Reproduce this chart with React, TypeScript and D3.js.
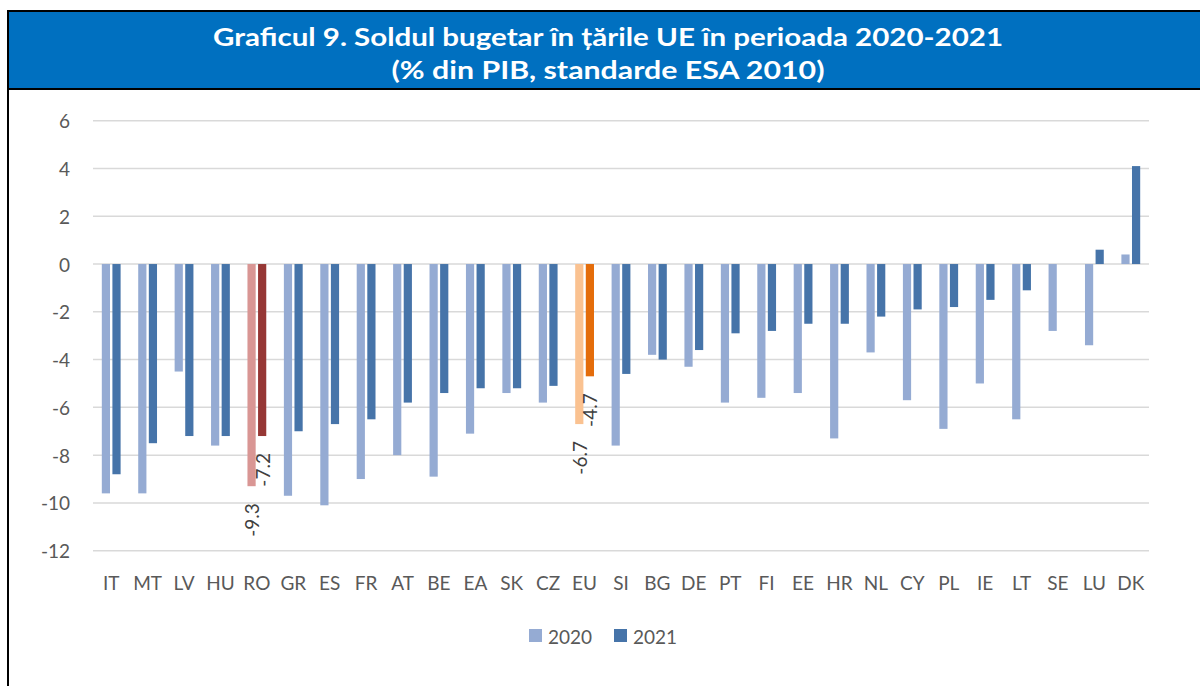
import { useEffect, useRef } from 'react';
import * as d3 from 'd3';

const categories = ['IT', 'MT', 'LV', 'HU', 'RO', 'GR', 'ES', 'FR', 'AT', 'BE', 'EA', 'SK', 'CZ', 'EU', 'SI', 'BG', 'DE', 'PT', 'FI', 'EE', 'HR', 'NL', 'CY', 'PL', 'IE', 'LT', 'SE', 'LU', 'DK'];
const values2020 = [-9.6, -9.6, -4.5, -7.6, -9.3, -9.7, -10.1, -9.0, -8.0, -8.9, -7.1, -5.4, -5.8, -6.7, -7.6, -3.8, -4.3, -5.8, -5.6, -5.4, -7.3, -3.7, -5.7, -6.9, -5.0, -6.5, -2.8, -3.4, 0.4];
const values2021 = [-8.8, -7.5, -7.2, -7.2, -7.2, -7.0, -6.7, -6.5, -5.8, -5.4, -5.2, -5.2, -5.1, -4.7, -4.6, -4.0, -3.6, -2.9, -2.8, -2.5, -2.5, -2.2, -1.9, -1.8, -1.5, -1.1, 0, 0.6, 4.1];
const seriesNames = ['2020', '2021'];
const yTicks = [6, 4, 2, 0, -2, -4, -6, -8, -10, -12];
const labelled = ['RO', 'EU'];
const titleLines = ['Graficul 9. Soldul bugetar în țările UE în perioada 2020-2021', '(% din PIB, standarde ESA 2010)'];

const colors: Record<string, string> = { '2020': '#95ABD3', '2021': '#4674A9' };
const highlight: Record<string, Record<string, string>> = {
  RO: { '2020': '#D99694', '2021': '#963735' },
  EU: { '2020': '#FAC291', '2021': '#E46C0A' },
};

const FONT = 'Lato, "Open Sans", sans-serif';

const App = () => {
  const ref = useRef<SVGSVGElement>(null);

  useEffect(() => {
    const svg = d3.select(ref.current);
    svg.selectAll('*').remove();

    // frame + title banner
    svg.append('rect').attr('x', 8).attr('y', 11).attr('width', 1192).attr('height', 78).attr('fill', '#0070C0');
    svg.append('line').attr('x1', 8).attr('x2', 1200).attr('y1', 11).attr('y2', 11).attr('stroke', '#000').attr('stroke-width', 2);
    svg.append('line').attr('x1', 8).attr('x2', 1200).attr('y1', 89).attr('y2', 89).attr('stroke', '#000').attr('stroke-width', 2);
    svg.append('line').attr('x1', 8).attr('x2', 8).attr('y1', 10).attr('y2', 686).attr('stroke', '#000').attr('stroke-width', 2);

    const titleWidths = [790, 433];
    svg.selectAll('text.title').data(titleLines).enter().append('text')
      .attr('class', 'title')
      .attr('x', (d, i) => 608 - titleWidths[i] / 2)
      .attr('y', (d, i) => 46 + i * 33)
      .attr('textLength', (d, i) => titleWidths[i])
      .attr('lengthAdjust', 'spacingAndGlyphs')
      .attr('fill', '#fff')
      .attr('font-family', FONT)
      .attr('font-weight', 'bold')
      .attr('font-size', 24)
      .text(d => d);

    const xScale = d3.scaleBand<string>().domain(categories).range([93, 1149]);
    const yScale = d3.scaleLinear().domain([-12, 6]).range([550.7, 120.7]);
    const bw = xScale.bandwidth();
    const inner = d3.scaleBand<string>().domain(seriesNames).range([bw / 2 - 9.4, bw / 2 + 9.4]).paddingInner(0.226);

    // gridlines
    svg.append('g').selectAll('line').data(yTicks).enter().append('line')
      .attr('x1', 93).attr('x2', 1149)
      .attr('y1', d => yScale(d)).attr('y2', d => yScale(d))
      .attr('stroke', '#D9D9D9').attr('stroke-width', 1.5);

    svg.append('g').selectAll('text').data(yTicks).enter().append('text')
      .attr('x', 70).attr('y', d => yScale(d))
      .attr('text-anchor', 'end').attr('dominant-baseline', 'central')
      .attr('fill', '#595959').attr('font-family', FONT).attr('font-size', 19)
      .text(d => d);

    const rows = categories.map((c, i) => ({ c, v: { '2020': values2020[i], '2021': values2021[i] } as Record<string, number> }));

    const groups = svg.append('g').selectAll('g').data(rows).enter().append('g')
      .attr('transform', d => `translate(${xScale(d.c)},0)`);

    seriesNames.forEach(s => {
      groups.append('rect')
        .attr('x', inner(s)!)
        .attr('width', inner.bandwidth())
        .attr('y', d => yScale(Math.max(0, d.v[s])))
        .attr('height', d => Math.abs(yScale(d.v[s]) - yScale(0)))
        .attr('fill', d => (highlight[d.c] ? highlight[d.c][s] : colors[s]));

      groups.filter(d => labelled.includes(d.c)).append('text')
        .attr('transform', d => `translate(${inner(s)! + inner.bandwidth() / 2},${yScale(d.v[s]) + 17}) rotate(-90)`)
        .attr('text-anchor', 'end').attr('dominant-baseline', 'central')
        .attr('fill', '#404040').attr('font-family', FONT).attr('font-size', 19)
        .text(d => d.v[s].toFixed(1));
    });

    // category labels
    svg.append('g').selectAll('text').data(categories).enter().append('text')
      .attr('x', d => xScale(d)! + bw / 2).attr('y', 582)
      .attr('text-anchor', 'middle').attr('dominant-baseline', 'central')
      .attr('fill', '#595959').attr('font-family', FONT).attr('font-size', 19)
      .text(d => d);

    // legend
    const legendX = [529, 614];
    const legend = svg.append('g').selectAll('g').data(seriesNames).enter().append('g')
      .attr('transform', (d, i) => `translate(${legendX[i]},629)`);
    legend.append('rect').attr('width', 13).attr('height', 13).attr('fill', d => colors[d]);
    legend.append('text').attr('x', 19).attr('y', 7)
      .attr('dominant-baseline', 'central')
      .attr('fill', '#595959').attr('font-family', FONT).attr('font-size', 19)
      .text(d => d);
  }, []);

  return (
    <div>
      <svg ref={ref} width={1200} height={686} style={{ position: 'absolute', left: 0, top: 0, background: '#fff' }} />
    </div>
  );
};

export default App;
